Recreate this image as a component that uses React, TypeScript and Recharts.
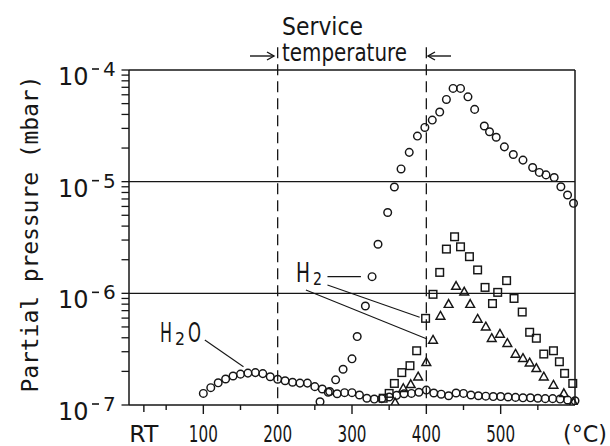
import { ScatterChart, Scatter, XAxis, YAxis, ReferenceLine, Customized } from "recharts";

const FONT = "'DejaVu Sans', 'Liberation Sans', sans-serif";
const MONO = "'DejaVu Sans Mono', 'Liberation Mono', monospace";
const INK = "#161616";

// H2O (circles, lower curve), 10 °C steps
const h2oTemp = [
  100, 110, 120, 130, 140, 150, 160, 170, 180, 190, 200, 210, 220, 230, 240, 250, 260, 270, 280, 290, 300,
  310, 320, 330, 340, 350, 360, 370, 380, 390, 400, 410, 420, 430, 440, 450, 460, 470, 480, 490, 500,
  510, 520, 530, 540, 550, 560, 570, 580, 590, 600,
];
const h2oP = [
  1.27e-7, 1.43e-7, 1.58e-7, 1.71e-7, 1.82e-7, 1.89e-7, 1.93e-7, 1.95e-7, 1.91e-7, 1.79e-7, 1.7e-7,
  1.65e-7, 1.6e-7, 1.57e-7, 1.57e-7, 1.46e-7, 1.39e-7, 1.32e-7, 1.26e-7, 1.29e-7, 1.29e-7,
  1.23e-7, 1.15e-7, 1.13e-7, 1.14e-7, 1.18e-7, 1.22e-7, 1.26e-7, 1.27e-7, 1.3e-7, 1.36e-7,
  1.28e-7, 1.25e-7, 1.21e-7, 1.28e-7, 1.27e-7, 1.23e-7, 1.21e-7, 1.2e-7, 1.19e-7, 1.19e-7,
  1.18e-7, 1.17e-7, 1.16e-7, 1.16e-7, 1.15e-7, 1.14e-7, 1.14e-7, 1.13e-7, 1.11e-7, 1.09e-7,
];

// H2, sample A (circles, big peak)
const h2aTemp = [
  257, 268, 278, 288, 300, 307, 318, 327, 335, 348, 357, 366, 377, 388, 398, 408, 418, 427, 436, 446,
  456, 465, 478, 485, 494, 505, 517, 530, 543, 552, 561, 572, 581, 590, 598,
];
const h2aP = [
  1.07e-7, 1.3e-7, 1.68e-7, 2.09e-7, 2.59e-7, 4.1e-7, 7.7e-7, 1.41e-6, 2.75e-6, 5.3e-6, 8.95e-6, 1.3e-5,
  1.83e-5, 2.56e-5, 3.06e-5, 3.56e-5, 4.2e-5, 5.45e-5, 6.84e-5, 6.84e-5, 5.75e-5, 4.44e-5, 3.15e-5,
  2.8e-5, 2.5e-5, 2.05e-5, 1.75e-5, 1.56e-5, 1.34e-5, 1.21e-5, 1.15e-5, 1.09e-5, 9.0e-6, 7.6e-6, 6.4e-6,
];

// H2, sample B (squares)
const h2bTemp = [
  342, 350, 357, 367, 378, 387, 399, 409, 418, 427, 438, 446, 458, 469, 479, 489, 496, 508, 518, 529,
  539, 548, 558, 571, 579, 586, 597,
];
const h2bP = [
  1.15e-7, 1.27e-7, 1.56e-7, 1.95e-7, 2.25e-7, 3.06e-7, 5.97e-7, 9.8e-7, 1.54e-6, 2.49e-6, 3.21e-6,
  2.61e-6, 2.13e-6, 1.62e-6, 1.13e-6, 8.1e-7, 1.02e-6, 1.3e-6, 9.0e-7, 6.8e-7, 4.48e-7, 3.96e-7,
  2.86e-7, 3.06e-7, 2.44e-7, 1.92e-7, 1.56e-7,
];

// H2, sample C (triangles)
const h2cTemp = [
  358, 369, 379, 389, 400, 409, 419, 430, 440, 451, 459, 469, 480, 488, 499, 509, 520, 530, 539, 548,
  558, 571, 585, 598,
];
const h2cP = [
  1.05e-7, 1.41e-7, 1.53e-7, 1.79e-7, 2.41e-7, 3.82e-7, 6.26e-7, 8.0e-7, 1.16e-6, 1.03e-6, 8.0e-7,
  5.89e-7, 5.02e-7, 3.96e-7, 4.32e-7, 3.57e-7, 2.86e-7, 2.62e-7, 2.39e-7, 2.13e-7, 1.79e-7, 1.51e-7,
  1.27e-7, 1.05e-7,
];

const RT = 20;
const xTicks = [RT, 50, 100, 150, 200, 250, 300, 350, 400, 450, 500, 550];
const decades = [-7, -6, -5];
const yTicks = [...decades.flatMap((d) => [1, 2, 3, 4, 5, 6, 7, 8, 9].map((m) => m * Math.pow(10, d))), 1e-4];
const serviceRange = [200, 400];

const zip = (t: number[], p: number[]) => t.map((v, i) => ({ t: v, p: p[i] }));

const Circle = (props: any) => (
  <circle cx={props.cx} cy={props.cy} r={3.8} fill="none" stroke={INK} strokeWidth={1.45} />
);
const Square = (props: any) => (
  <rect x={props.cx - 3.8} y={props.cy - 3.8} width={7.6} height={7.6} fill="none" stroke={INK} strokeWidth={1.45} />
);
const Triangle = (props: any) => (
  <path
    d={`M${props.cx},${props.cy - 4.6} L${props.cx + 4.4},${props.cy + 3.2} L${props.cx - 4.4},${props.cy + 3.2} Z`}
    fill="none"
    stroke={INK}
    strokeWidth={1.45}
  />
);

function XTick({ x, y, payload }: any) {
  const v = payload.value;
  const major = v % 100 === 0;
  const len = v === RT ? 7 : major ? 9 : 5;
  const label = v === RT ? "RT" : major ? String(v) : "";
  return (
    <g>
      <line x1={x} x2={x} y1={y} y2={y + len} stroke={INK} strokeWidth={1.4} />
      {label && (
        <text x={x} y={y + 37} textAnchor="middle" fontSize={23} fontFamily={FONT} fill={INK}
          textLength={29} lengthAdjust="spacingAndGlyphs">
          {label}
        </text>
      )}
    </g>
  );
}

function YTick({ x, y, payload }: any) {
  const lg = Math.log10(payload.value);
  const major = Math.abs(lg - Math.round(lg)) < 1e-6;
  return (
    <g>
      <line x1={x - 7.5} x2={x} y1={y} y2={y} stroke={INK} strokeWidth={1.3} />
      {major && (
        <g fontFamily={FONT} fill={INK}>
          <text x={58} y={y + 15} fontSize={24}>10</text>
          <line x1={92} x2={99} y1={y - 1} y2={y - 1} stroke={INK} strokeWidth={1.6} />
          <text x={103} y={y + 6} fontSize={20}>{String(-Math.round(lg))}</text>
        </g>
      )}
    </g>
  );
}

function Overlay() {
  return (
    <g fontFamily={FONT} fill={INK}>
      <text x={282} y={35} fontSize={24} textLength={81} lengthAdjust="spacingAndGlyphs">Service</text>
      <text x={282} y={61} fontSize={24} textLength={125} lengthAdjust="spacingAndGlyphs">temperature</text>
      <g stroke={INK} strokeWidth={1.4} fill="none">
        <line x1={250} x2={274} y1={56} y2={56} />
        <path d="M267,52 L274,56 L267,60" />
        <line x1={428} x2={451} y1={56} y2={56} />
        <path d="M435,52 L428,56 L435,60" />
      </g>
      <text transform="translate(38,234) rotate(-90)" textAnchor="middle" fontSize={23} fontFamily={MONO}
        textLength={317} lengthAdjust="spacing">
        Partial pressure (mbar)
      </text>
      <text x={296} y={282} fontSize={26} textLength={14} lengthAdjust="spacingAndGlyphs">H</text>
      <text x={313} y={285} fontSize={17} textLength={9} lengthAdjust="spacingAndGlyphs">2</text>
      <text x={160} y={342} fontSize={27} textLength={12} lengthAdjust="spacingAndGlyphs">H</text>
      <text x={175} y={345} fontSize={17} textLength={10} lengthAdjust="spacingAndGlyphs">2</text>
      <text x={188} y={342} fontSize={27} textLength={13} lengthAdjust="spacingAndGlyphs">O</text>
      <text x={585} y={442} textAnchor="middle" fontSize={23} textLength={44} lengthAdjust="spacingAndGlyphs">(°C)</text>
    </g>
  );
}

export default function App() {
  return (
    <div style={{ position: "absolute", left: 0, top: 0, background: "#fff" }}>
      <ScatterChart width={610} height={446} margin={{ top: 70, right: 35, bottom: 0, left: 0 }}>
        <XAxis type="number" dataKey="t" domain={[0, 600]} ticks={xTicks} interval={0}
          tickSize={0} tickMargin={0} tick={<XTick />} height={41}
          axisLine={{ stroke: INK, strokeWidth: 1.5 }} />
        <YAxis type="number" dataKey="p" scale="log" domain={[1e-7, 1e-4]} allowDataOverflow
          ticks={yTicks} interval={0} tickSize={0} tickMargin={0} tick={<YTick />} width={129}
          axisLine={{ stroke: INK, strokeWidth: 1.5 }} />
        <ReferenceLine y={1e-4} stroke={INK} strokeWidth={1.5} />
        <ReferenceLine y={1e-5} stroke={INK} strokeWidth={1.3} />
        <ReferenceLine y={1e-6} stroke={INK} strokeWidth={1.3} />
        <ReferenceLine x={600} stroke={INK} strokeWidth={1.5} />
        {serviceRange.map((t) => (
          <ReferenceLine key={t} segment={[{ x: t, y: 1.6e-4 }, { x: t, y: 1e-7 }]} ifOverflow="visible"
            stroke={INK} strokeWidth={1.3} strokeDasharray="11 6" />
        ))}
        <ReferenceLine segment={[{ x: 267, y: 1.41e-6 }, { x: 312, y: 1.41e-6 }]} stroke={INK} strokeWidth={1.1} />
        <ReferenceLine segment={[{ x: 267, y: 1.19e-6 }, { x: 391, y: 6.1e-7 }]} stroke={INK} strokeWidth={1.1} />
        <ReferenceLine segment={[{ x: 238, y: 1.07e-6 }, { x: 401, y: 3.9e-7 }]} stroke={INK} strokeWidth={1.1} />
        <ReferenceLine segment={[{ x: 102, y: 3.82e-7 }, { x: 154, y: 2.2e-7 }]} stroke={INK} strokeWidth={1.1} />
        <Scatter data={zip(h2oTemp, h2oP)} shape={<Circle />} isAnimationActive={false} />
        <Scatter data={zip(h2aTemp, h2aP)} shape={<Circle />} isAnimationActive={false} />
        <Scatter data={zip(h2bTemp, h2bP)} shape={<Square />} isAnimationActive={false} />
        <Scatter data={zip(h2cTemp, h2cP)} shape={<Triangle />} isAnimationActive={false} />
        <Customized component={<Overlay />} />
      </ScatterChart>
    </div>
  );
}
